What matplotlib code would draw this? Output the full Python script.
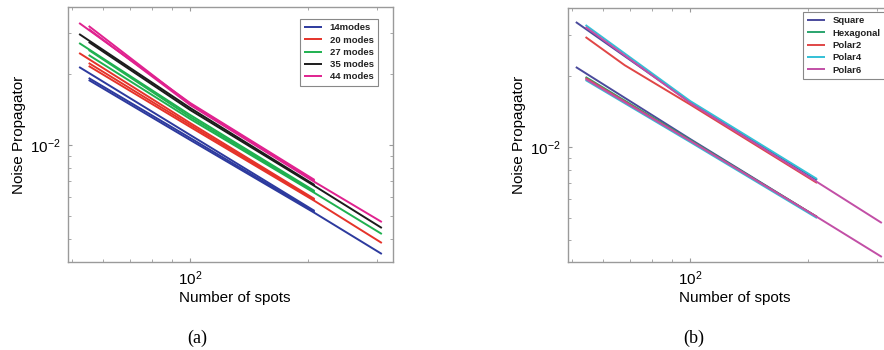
import matplotlib
matplotlib.use('Agg')
import matplotlib.pyplot as plt
from matplotlib.ticker import NullFormatter

plt.rcParams['font.family'] = ['Liberation Sans', 'DejaVu Sans']

# ---------------- Panel (a) data ----------------
labels_a = ['14modes', '20 modes', '27 modes', '35 modes', '44 modes']
colors_a = ['#2d3a9e', '#e5332a', '#1fb150', '#1c1c1c', '#e0228f']

n_a1 = [52, 100, 208]
n_a2 = [55, 100, 208]
n_a3 = [55, 100, 208, 309]

modes14 = [(n_a1, [0.02147, 0.01103, 0.00524]),
           (n_a2, [0.01928, 0.01071, 0.00519]),
           (n_a3, [0.01891, 0.01050, 0.00514, 0.003437])]
modes20 = [(n_a1, [0.02463, 0.01240, 0.00589]),
           (n_a2, [0.02233, 0.01216, 0.00583]),
           (n_a3, [0.02169, 0.01193, 0.00578, 0.003828])]
modes27 = [(n_a1, [0.02716, 0.01342, 0.00637]),
           (n_a2, [0.02537, 0.01316, 0.00631]),
           (n_a3, [0.02415, 0.01290, 0.00625, 0.00418])]
modes35 = [(n_a1, [0.02967, 0.01437, 0.00676]),
           (n_a3, [0.02744, 0.01409, 0.00669, 0.004434])]
modes44 = [(n_a1, [0.03305, 0.01509, 0.00710]),
           (n_a2, [0.03210, 0.01495, 0.00703]),
           (n_a3, [0.03116, 0.01480, 0.00696, 0.00470])]
groups_a = [modes14, modes20, modes27, modes35, modes44]

# ---------------- Panel (b) data ----------------
labels_b = ['Square', 'Hexagonal', 'Polar2', 'Polar4', 'Polar6']
colors_b = ['#4a4a9c', '#2aa46e', '#e04646', '#33c0d6', '#c24fa6']

n_b1 = [51, 100, 211]
n_b2 = [54, 100, 211]
n_b3 = [54, 100, 211, 309]
n_b4 = [54, 68, 83, 100, 211]

square_b = [(n_b1, [0.03404, 0.01554, 0.007237]),
            (n_b1, [0.02190, 0.01081, 0.005036])]
hexagonal_b = [(n_b2, [0.01986, 0.01071, 0.005036])]
polar2_b = [(n_b4, [0.02938, 0.02229, 0.01826, 0.01516, 0.007029]),
            (n_b2, [0.01966, 0.01061, 0.005036])]
polar4_b = [(n_b2, [0.03305, 0.01569, 0.007308]),
            (n_b2, [0.01928, 0.01050, 0.004985])]
polar6_b = [(n_b3, [0.03241, 0.01539, 0.007097, 0.004749]),
            (n_b3, [0.01947, 0.01061, 0.005036, 0.003404])]
groups_b = [square_b, hexagonal_b, polar2_b, polar4_b, polar6_b]

# ---------------- Figure ----------------
W, H = 884, 350
fig = plt.figure(figsize=(W / 100, H / 100), dpi=100)
axa = fig.add_axes([68 / W, 88 / H, 325 / W, 255 / H])
axb = fig.add_axes([568 / W, 88 / H, 325 / W, 254 / H])

spine_col = '#9a9a9a'


def style(ax, ylim):
    ax.set_xscale('log')
    ax.set_yscale('log')
    ax.set_xlim(48.7, 330)
    ax.set_ylim(*ylim)
    for s in ax.spines.values():
        s.set_color(spine_col)
        s.set_linewidth(1.0)
    ax.tick_params(which='both', direction='in', top=True, right=True,
                   color=spine_col, labelsize=11, pad=5)
    ax.tick_params(which='major', length=3)
    ax.tick_params(which='minor', length=2)
    ax.xaxis.set_minor_formatter(NullFormatter())
    ax.yaxis.set_minor_formatter(NullFormatter())
    ax.set_xlabel('Number of spots', fontsize=11)
    ax.set_ylabel('Noise Propagator', fontsize=11)
    ax.xaxis.set_label_coords(0.514, -0.115)
    ax.yaxis.set_label_coords(-0.128, 0.5)


def draw(ax, groups, colors, labels):
    handles = []
    for grp, col, lab in zip(groups, colors, labels):
        first = None
        for n, v in grp:
            ln, = ax.plot(n, v, color=col, lw=1.4, solid_capstyle='butt')
            if first is None:
                first = ln
        handles.append(first)
    return handles


def legend(ax, handles, labels, anchor):
    leg = ax.legend(handles, labels, loc='upper left', bbox_to_anchor=anchor,
                    prop={'weight': 'bold', 'size': 6.8}, frameon=True,
                    fancybox=False, edgecolor='#888888', framealpha=1,
                    handlelength=1.9, handletextpad=0.8, labelspacing=0.35,
                    borderpad=0.45, borderaxespad=0)
    leg.get_frame().set_linewidth(0.8)
    for t in leg.get_texts():
        t.set_color('#222222')
    return leg


ha = draw(axa, groups_a, colors_a, labels_a)
style(axa, (0.003178, 0.03865))
legend(axa, ha, labels_a, (0.714, 0.953))

hb = draw(axb, groups_b, colors_b, labels_b)
style(axb, (0.00324, 0.03905))
legend(axb, hb, labels_b, (0.723, 0.984))

fig.text(197 / W, 1 - 338 / H, '(a)', family=['Liberation Serif', 'DejaVu Serif'],
         fontsize=13, ha='center', va='center')
fig.text(694 / W, 1 - 338 / H, '(b)', family=['Liberation Serif', 'DejaVu Serif'],
         fontsize=13, ha='center', va='center')

fig.savefig('out.png', dpi=100)
